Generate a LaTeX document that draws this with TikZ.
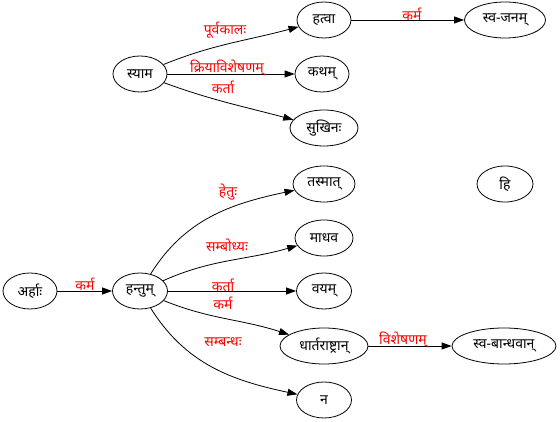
\documentclass[tikz,border=0pt]{standalone}
\usepackage{fontspec}
\setmainfont[Script=Devanagari]{Noto Sans}
\usetikzlibrary{shapes.geometric,arrows.meta}
\begin{document}
\begin{tikzpicture}[x=1pt,y=1pt,
  wnode/.style={draw,ellipse,minimum height=36pt,inner sep=0pt,font=\fontsize{14}{16}\selectfont,line width=0.8pt},
  lab/.style={text=red,font=\fontsize{14}{16}\selectfont,inner sep=1pt},
  edge/.style={line width=0.8pt,-{Triangle[length=10pt,width=7pt]}}]
\useasboundingbox (0,0) rectangle (560,422);
% nodes
\node[wnode,minimum width=54pt] (syama) at (140,348) {स्याम};
\node[wnode,minimum width=54pt] (hatva) at (324,402) {हत्वा};
\node[wnode,minimum width=54pt] (katham) at (322,348) {कथम्};
\node[wnode,minimum width=68pt] (sukhinah) at (324,294) {सुखिनः};
\node[wnode,minimum width=81pt] (svajanam) at (505,402) {स्व-जनम्};
\node[wnode,minimum width=56pt] (hi) at (505,238) {हि};
\node[wnode,minimum width=62pt] (tasmat) at (324,238) {तस्मात्};
\node[wnode,minimum width=58pt] (madhava) at (324,184) {माधव};
\node[wnode,minimum width=55pt] (vayam) at (324,131) {वयम्};
\node[wnode,minimum width=88pt] (dhart) at (324,76) {धार्तराष्ट्रान्};
\node[wnode,minimum width=55pt] (na) at (324,22) {न};
\node[wnode,minimum width=104pt] (svabandh) at (504,76) {स्व-बान्धवान्};
\node[wnode,minimum width=54pt] (arhah) at (30,131) {अर्हाः};
\node[wnode,minimum width=55pt] (hantum) at (140,131) {हन्तुम्};
% edges
\draw[edge] (syama) to[out=22,in=195] (hatva);
\draw[edge] (syama) -- (katham);
\draw[edge] (syama) to[out=-20,in=165] (sukhinah);
\draw[edge] (hatva) -- (svajanam);
\draw[edge] (arhah) -- (hantum);
\draw[edge] (hantum) to[out=58,in=192] (tasmat);
\draw[edge] (hantum) to[out=24,in=196] (madhava);
\draw[edge] (hantum) -- (vayam);
\draw[edge] (hantum) to[out=-22,in=162] (dhart);
\draw[edge] (hantum) to[out=-58,in=168] (na);
\draw[edge] (dhart) -- (svabandh);
% labels
\node[lab] (l1) at (225,392) {पूर्वकालः};
\node[lab] (l2) at (227,354) {क्रियाविशेषणम्};
\node[lab] (l3) at (223,335) {कर्ता};
\node[lab] (l4) at (412,408) {कर्म};
\node[lab] (l5) at (85,138) {कर्म};
\node[lab] (l6) at (228,230) {हेतुः};
\node[lab] (l7) at (227,177) {सम्बोध्यः};
\node[lab] (l8) at (223,137) {कर्ता};
\node[lab] (l9) at (223,119) {कर्म};
\node[lab] (l10) at (223,80) {सम्बन्धः};
\node[lab] (l11) at (403,82) {विशेषणम्};
\end{tikzpicture}
\end{document}
